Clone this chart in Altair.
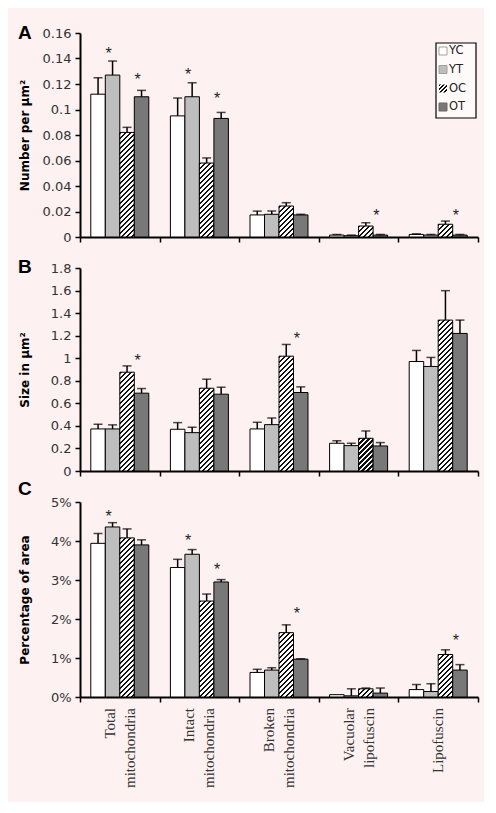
import altair as alt
import pandas as pd

cats = ["Total mitochondria", "Intact mitochondria", "Broken mitochondria",
        "Vacuolar lipofuscin", "Lipofuscin"]
groups = ["YC", "YT", "OC", "OT"]
colors = ["#ffffff", "#bebebe", "#ffffff", "#787878"]

# Panel A: number per um^2 (value, upper error)
A_vals = {
    "YC": [0.112, 0.095, 0.0173, 0.0015, 0.002],
    "YT": [0.127, 0.110, 0.0178, 0.001, 0.0015],
    "OC": [0.082, 0.058, 0.0243, 0.0086, 0.010],
    "OT": [0.110, 0.093, 0.0173, 0.0015, 0.0015],
}
A_errs = {
    "YC": [0.013, 0.014, 0.003, 0.0005, 0.0005],
    "YT": [0.011, 0.011, 0.0026, 0.0005, 0.0005],
    "OC": [0.004, 0.004, 0.0026, 0.0026, 0.0025],
    "OT": [0.005, 0.0047, 0.0005, 0.0005, 0.0005],
}
A_stars = [("Total mitochondria", "YT", 0.1467), ("Total mitochondria", "OT", 0.126),
           ("Intact mitochondria", "YT", 0.130), ("Intact mitochondria", "OT", 0.111),
           ("Vacuolar lipofuscin", "OT", 0.0196), ("Lipofuscin", "OT", 0.0196)]

# Panel B: size in um^2
B_vals = {
    "YC": [0.373, 0.370, 0.373, 0.246, 0.971],
    "YT": [0.373, 0.340, 0.411, 0.225, 0.927],
    "OC": [0.876, 0.734, 1.018, 0.290, 1.338],
    "OT": [0.690, 0.681, 0.696, 0.222, 1.220],
}
B_errs = {
    "YC": [0.041, 0.059, 0.059, 0.023, 0.098],
    "YT": [0.036, 0.048, 0.059, 0.021, 0.080],
    "OC": [0.056, 0.080, 0.104, 0.065, 0.261],
    "OT": [0.041, 0.062, 0.050, 0.030, 0.118],
}
B_stars = [("Total mitochondria", "OT", 1.013), ("Broken mitochondria", "OT", 1.21)]

# Panel C: percentage of area
C_vals = {
    "YC": [3.94, 3.32, 0.63, 0.06, 0.19],
    "YT": [4.36, 3.66, 0.69, 0.03, 0.14],
    "OC": [4.08, 2.46, 1.65, 0.21, 1.09],
    "OT": [3.90, 2.95, 0.97, 0.10, 0.69],
}
C_errs = {
    "YC": [0.25, 0.21, 0.08, 0.0, 0.13],
    "YT": [0.11, 0.12, 0.06, 0.18, 0.20],
    "OC": [0.23, 0.18, 0.20, 0.02, 0.12],
    "OT": [0.13, 0.06, 0.01, 0.13, 0.14],
}
C_stars = [("Total mitochondria", "YT", 4.73), ("Intact mitochondria", "YT", 4.09),
           ("Intact mitochondria", "OT", 3.36), ("Broken mitochondria", "OT", 2.22),
           ("Lipofuscin", "OT", 1.55)]

PLOT_W = 398
BAR_W = PLOT_W / 5 / (4 + 2 * 0.745)
FONT = "DejaVu Sans"


def hatch(h, w=BAR_W, P=5.0, frac=0.45):
    """Diagonal hatch fill as a striped linear gradient (style only)."""
    h = max(h, 0.5)
    L = w + h
    k = L / (w * w + h * h)
    stops = []
    i = 0
    while i * P / L <= 1:
        a = min(i * P / L, 1)
        b = min((i * P + frac * P) / L, 1)
        n = min((i + 1) * P / L, 1)
        stops += [{"offset": a, "color": "#111111"}, {"offset": b, "color": "#111111"},
                  {"offset": b, "color": "#ffffff"}, {"offset": n, "color": "#ffffff"}]
        i += 1
    return {"gradient": "linear", "x1": 0, "y1": 0, "x2": k * w, "y2": k * h, "stops": stops}


def panel(vals, errs, stars, dmax, H, yvals, label_expr, ytitle, letter, letter_dy,
          show_labels, legend=False):
    rows = []
    for g in groups:
        for c, v, e in zip(cats, vals[g], errs[g]):
            rows.append({"cat": c, "grp": g, "v": v, "e": e, "top": v + e})
    df = pd.DataFrame(rows)
    sdf = pd.DataFrame([{"cat": c, "grp": g, "sy": y, "s": "*"} for c, g, y in stars])

    xaxis = alt.Axis(title=None, tickBand="extent", labels=False,
                     domainColor="black", domainWidth=2, tickColor="black",
                     tickWidth=1.5, tickSize=5)
    X = alt.X("cat:N", sort=cats, scale=alt.Scale(paddingInner=0, paddingOuter=0), axis=xaxis)
    XO = alt.XOffset("grp:N", sort=groups,
                     scale=alt.Scale(paddingInner=0, paddingOuter=0.745))
    yaxis = alt.Axis(values=yvals, labelExpr=label_expr, title=ytitle, grid=False,
                     labelFont=FONT, labelFontSize=13, labelColor="#333333",
                     titleFont=FONT, titleFontSize=12, titleFontWeight="bold",
                     titleColor="black", titlePadding=4, minExtent=45, maxExtent=45,
                     domainColor="black", domainWidth=2, tickColor="black",
                     tickWidth=1.5, tickSize=5, labelPadding=4)
    yscale = alt.Scale(domain=[0, dmax], nice=False, zero=True)

    def Y(f):
        return alt.Y(f, stack=None, scale=yscale, axis=yaxis)

    conds = [{"test": f"datum.cat === '{c}' && datum.grp === 'OC'",
              "value": hatch(v / dmax * H)} for c, v in zip(cats, vals["OC"])]

    base = alt.Chart(df)
    bars = base.mark_bar(stroke="black", strokeWidth=1).encode(
        x=X, xOffset=XO, y=Y("v:Q"),
        fill=alt.Fill("grp:N", scale=alt.Scale(domain=groups, range=colors),
                      legend=None, condition=conds))
    errl = base.transform_filter("datum.e > 0").mark_rule(
        color="black", strokeWidth=1.5).encode(x=X, xOffset=XO, y=Y("v:Q"), y2="top:Q")
    caps = base.transform_filter("datum.e > 0").mark_tick(
        color="black", size=9, thickness=1.5, orient="horizontal").encode(
        x=X, xOffset=XO, y=Y("top:Q"))
    st = alt.Chart(sdf).mark_text(font="Liberation Sans", fontSize=16, color="#222222",
                                  baseline="middle", dx=-4, dy=4).encode(
        x=X, xOffset=XO, y=Y("sy:Q"), text="s:N")
    let = alt.Chart(pd.DataFrame({"t": [letter]})).mark_text(
        font="Liberation Sans", fontSize=19, fontWeight="bold", color="black",
        align="left", baseline="middle").encode(
        x=alt.value(-62), y=alt.value(letter_dy), text="t:N")

    layers = [bars, errl, caps, st, let]

    if show_labels:
        lrows = []
        for c in cats:
            parts = c.split(" ")
            if len(parts) == 1:
                lrows.append({"cat": c, "t": parts[0], "k": "single"})
            else:
                lrows.append({"cat": c, "t": parts[0], "k": "first"})
                lrows.append({"cat": c, "t": parts[1], "k": "second"})
        ldf = pd.DataFrame(lrows)
        for k, d in (("first", -10), ("second", 10), ("single", 0)):
            layers.append(alt.Chart(ldf).transform_filter(f"datum.k === '{k}'").mark_text(
                font="Liberation Serif", fontSize=15, color="#333333", angle=270,
                align="right", baseline="middle", dy=d).encode(
                x=X, y=alt.value(H + 11), text="t:N"))

    if legend:
        one = pd.DataFrame({"k": [0]})
        layers.append(alt.Chart(one).mark_rect(fill="#fffafa", stroke="black",
                                               strokeWidth=1.2).encode(
            x=alt.value(356), x2=alt.value(396), y=alt.value(10), y2=alt.value(85)))
        ly = [18, 36.5, 55.5, 74]
        sym_stroke = ["#a0a0a0", "#a0a0a0", None, "#666666"]
        for g, c, yy, sk in zip(groups, colors, ly, sym_stroke):
            if g == "OC":
                m = alt.Chart(one).mark_rect(fill=hatch(8, w=8, P=4.0, frac=0.5))
            else:
                m = alt.Chart(one).mark_rect(fill=c, stroke=sk, strokeWidth=1)
            layers.append(m.encode(x=alt.value(359), x2=alt.value(367),
                                   y=alt.value(yy - 4), y2=alt.value(yy + 4)))
            layers.append(alt.Chart(pd.DataFrame({"t": [g]})).mark_text(
                font=FONT, fontSize=11.5, color="#222222", align="left",
                baseline="middle").encode(x=alt.value(369), y=alt.value(yy), text="t:N"))

    return alt.layer(*layers).properties(width=PLOT_W, height=H)


pA = panel(A_vals, A_errs, A_stars, 0.16, 204,
           [0, 0.02, 0.04, 0.06, 0.08, 0.1, 0.12, 0.14, 0.16],
           "format(datum.value, '.2~f')", "Number per µm²", "A", 0, False, legend=True)
pB = panel(B_vals, B_errs, B_stars, 1.8, 203,
           [0, 0.2, 0.4, 0.6, 0.8, 1.0, 1.2, 1.4, 1.6, 1.8],
           "format(datum.value, '.1~f')", "Size in µm²", "B", -1, False)
pC = panel(C_vals, C_errs, C_stars, 5, 195, [0, 1, 2, 3, 4, 5],
           "datum.value + '%'", "Percentage of area", "C", -13, True)

chart = alt.vconcat(pA, pB, pC, spacing=31, bounds="flush").configure(
    background="#fdf1f1",
    padding={"left": 10, "top": 16, "right": 5, "bottom": 14},
).configure_view(stroke=None)

chart.save("out.html", embed_options={"renderer": "svg", "actions": False})
